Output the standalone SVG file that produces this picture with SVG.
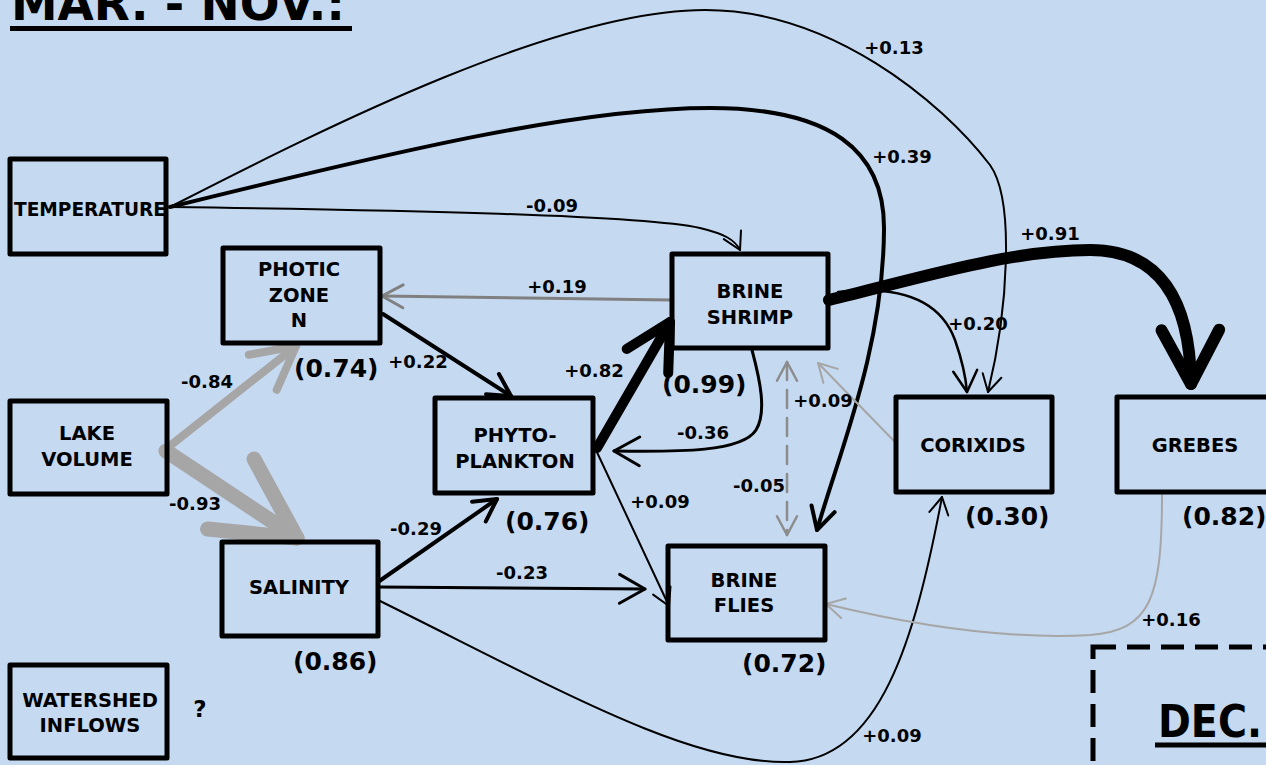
<svg xmlns="http://www.w3.org/2000/svg" width="1266" height="765" viewBox="0 0 1266 765">
<style>
.bg{fill:#C5D9F1}
.box{fill:none;stroke:#000;stroke-width:5;stroke-linejoin:round}
.nl{font-family:"DejaVu Sans","Liberation Sans",sans-serif;font-weight:bold;font-size:19.5px;fill:#000;text-anchor:middle}
.r2{font-family:"DejaVu Sans","Liberation Sans",sans-serif;font-weight:bold;font-size:25px;fill:#000}
.cf{font-family:"DejaVu Sans","Liberation Sans",sans-serif;font-weight:bold;font-size:18px;fill:#000;text-anchor:middle}
.ttl{font-family:"DejaVu Sans","Liberation Sans",sans-serif;font-weight:bold;font-size:48px;fill:#000}
.c{fill:none;stroke-linecap:round;stroke-linejoin:round}
.k{stroke:#000}
.g1{stroke:#808080}
.g2{stroke:#A6A6A6}
.g3{stroke:#8C8C8C}
.mk{fill:none;stroke-width:1;stroke-linecap:round;stroke-linejoin:round}
</style>
<defs>
<marker id="ab" viewBox="-12 -8 14 16" refX="0" refY="0" markerWidth="14" markerHeight="16" orient="auto" markerUnits="strokeWidth" overflow="visible"><path class="mk" d="M-8.5,-4.8 L0,0 L-8.5,4.8" stroke="#000"/></marker>
<marker id="abm" viewBox="-12 -8 14 16" refX="0" refY="0" markerWidth="14" markerHeight="16" orient="auto" markerUnits="strokeWidth" overflow="visible"><path class="mk" d="M-5.5,-3 L0,0 L-5.5,3" stroke="#000"/></marker>
<marker id="abk" viewBox="-12 -8 14 16" refX="0" refY="0" markerWidth="14" markerHeight="16" orient="auto" markerUnits="strokeWidth" overflow="visible"><path class="mk" d="M-4.5,-2.4 L0,0 L-4.5,2.4" stroke="#000"/></marker>
<marker id="ag1" viewBox="-12 -8 14 16" refX="0" refY="0" markerWidth="14" markerHeight="16" orient="auto" markerUnits="strokeWidth" overflow="visible"><path class="mk" d="M-7,-3.8 L0,0 L-7,3.8" stroke="#808080"/></marker>
<marker id="ag2" viewBox="-12 -8 14 16" refX="0" refY="0" markerWidth="14" markerHeight="16" orient="auto" markerUnits="strokeWidth" overflow="visible"><path class="mk" d="M-9,-5 L0,0 L-9,5" stroke="#A6A6A6"/></marker>
<marker id="ag3" viewBox="-12 -8 14 16" refX="0" refY="0" markerWidth="14" markerHeight="16" orient="auto-start-reverse" markerUnits="strokeWidth" overflow="visible"><path class="mk" d="M-7.5,-4 L0,0 L-7.5,4" stroke="#8C8C8C"/></marker>
<marker id="agk" viewBox="-12 -8 14 16" refX="0" refY="0" markerWidth="14" markerHeight="16" orient="auto" markerUnits="strokeWidth" overflow="visible"><path class="mk" d="M-5.3,-2.8 L0,0 L-5.3,2.8" stroke="#A6A6A6"/></marker>
</defs>
<rect class="bg" x="0" y="0" width="1266" height="765"/>

<g id="title-mar-nov">
<text class="ttl" x="11" y="20" textLength="334" lengthAdjust="spacingAndGlyphs">MAR. - NOV.:</text>
<line x1="10" y1="28.5" x2="352" y2="28.5" stroke="#000" stroke-width="5"/>
</g>

<g id="connectors">
<path class="c k" stroke-width="2" d="M170,207 C330,125 560,10 705,10 C830,10 940,100 990,165 C1015,200 1008,310 988,392" marker-end="url(#ab)"/>
<path class="c k" stroke-width="4" d="M170,207 C400,150 580,108 710,108 C830,108 885,150 884,230 C883,350 840,450 817,530" marker-end="url(#abm)"/>
<path class="c k" stroke-width="2" d="M170,207 C400,210 640,215 700,228 C725,234 735,240 740,250" marker-end="url(#ab)"/>
<path class="c g1" stroke-width="3" d="M671,300 L382,296" marker-end="url(#ag1)"/>
<path class="c k" stroke-width="4" d="M383,314 L511,396" marker-end="url(#abm)"/>
<path class="c g2" stroke-width="8" d="M166,449 L296,346" marker-end="url(#agk)"/>
<path class="c g2" stroke-width="15" d="M166,451 L297,538" marker-end="url(#agk)"/>
<path class="c k" stroke-width="4" d="M378,582 L497,499" marker-end="url(#abm)"/>
<path class="c k" stroke-width="3" d="M378,587 L645,589" marker-end="url(#ab)"/>
<path class="c k" stroke-width="2" d="M378,600 C560,690 690,765 790,762 C880,760 915,640 942,497" marker-end="url(#ab)"/>
<path class="c k" stroke-width="10" d="M597,448 L670,322" marker-end="url(#abk)"/>
<path class="c k" stroke-width="3" d="M752,350 C760,380 767,412 756,430 C742,452 680,452 614,451" marker-end="url(#ab)"/>
<path class="c k" stroke-width="12" d="M829,300 C920,278 1010,250 1090,250 C1160,250 1190,300 1191,384" marker-end="url(#abk)"/>
<path class="c k" stroke-width="2.5" d="M838,292 C900,285 940,300 955,340 C962,360 966,380 967,392" marker-end="url(#ab)"/>
<path class="c g2" stroke-width="2" d="M897,444 L818,363" marker-end="url(#ag2)"/>
<path class="c g3" stroke-width="2.5" stroke-dasharray="18 10" d="M787,362 L787,535" marker-start="url(#ag3)" marker-end="url(#ag3)"/>
<path class="c k" stroke-width="2" d="M595,448 L669,606" marker-end="url(#ab)"/>
<path class="c g2" stroke-width="2" d="M1162,495 C1162,600 1150,630 1090,635 C1000,640 900,622 826,604" marker-end="url(#ag2)"/>

<text class="cf" x="894" y="54">+0.13</text>
<text class="cf" x="902" y="163">+0.39</text>
<text class="cf" x="1050" y="240">+0.91</text>
<text class="cf" x="552" y="212">-0.09</text>
<text class="cf" x="557" y="293">+0.19</text>
<text class="cf" x="418" y="368">+0.22</text>
<text class="cf" x="207" y="388">-0.84</text>
<text class="cf" x="195" y="510">-0.93</text>
<text class="cf" x="416" y="535">-0.29</text>
<text class="cf" x="594" y="377">+0.82</text>
<text class="cf" x="703" y="439">-0.36</text>
<text class="cf" x="823" y="407">+0.09</text>
<text class="cf" x="759" y="492">-0.05</text>
<text class="cf" x="660" y="508">+0.09</text>
<text class="cf" x="522" y="579">-0.23</text>
<text class="cf" x="978" y="330">+0.20</text>
<text class="cf" x="892" y="742">+0.09</text>
<text class="cf" x="1171" y="626">+0.16</text>
<text class="cf" x="200" y="717" style="font-size:23px">?</text>
</g>

<g id="temperature">
<rect class="box" x="10" y="159" width="156" height="95"/>
<text class="nl" x="90" y="216" textLength="152" lengthAdjust="spacingAndGlyphs">TEMPERATURE</text>
</g>
<g id="photic-zone-n">
<rect class="box" x="223" y="248" width="157" height="95"/>
<text class="nl" x="299" y="276">PHOTIC</text>
<text class="nl" x="299" y="302">ZONE</text>
<text class="nl" x="299" y="327">N</text>
<text class="r2" x="294" y="377">(0.74)</text>
</g>
<g id="lake-volume">
<rect class="box" x="10" y="401" width="157" height="93"/>
<text class="nl" x="87" y="440">LAKE</text>
<text class="nl" x="87" y="466">VOLUME</text>
</g>
<g id="salinity">
<rect class="box" x="222" y="542" width="156" height="94"/>
<text class="nl" x="299" y="594">SALINITY</text>
<text class="r2" x="293" y="670">(0.86)</text>
</g>
<g id="watershed-inflows">
<rect class="box" x="10" y="665" width="157" height="93"/>
<text class="nl" x="90" y="707">WATERSHED</text>
<text class="nl" x="90" y="732">INFLOWS</text>
</g>
<g id="phytoplankton">
<rect class="box" x="435" y="398" width="158" height="95"/>
<text class="nl" x="515" y="442">PHYTO-</text>
<text class="nl" x="515" y="468">PLANKTON</text>
<text class="r2" x="505" y="530">(0.76)</text>
</g>
<g id="brine-shrimp">
<rect class="box" x="672" y="254" width="156" height="94"/>
<text class="nl" x="750" y="298">BRINE</text>
<text class="nl" x="750" y="324">SHRIMP</text>
<text class="r2" x="662" y="393">(0.99)</text>
</g>
<g id="brine-flies">
<rect class="box" x="668" y="546" width="157" height="94"/>
<text class="nl" x="744" y="587">BRINE</text>
<text class="nl" x="744" y="612">FLIES</text>
<text class="r2" x="742" y="672">(0.72)</text>
</g>
<g id="corixids">
<rect class="box" x="896" y="397" width="156" height="95"/>
<text class="nl" x="973" y="452">CORIXIDS</text>
<text class="r2" x="965" y="525">(0.30)</text>
</g>
<g id="grebes">
<rect class="box" x="1117" y="397" width="170" height="95"/>
<text class="nl" x="1195" y="452">GREBES</text>
<text class="r2" x="1182" y="525">(0.82)</text>
</g>
<g id="dec-panel">
<rect x="1093" y="647" width="220" height="160" fill="none" stroke="#000" stroke-width="5" stroke-dasharray="23 11"/>
<text class="ttl" x="1158" y="737" style="font-size:44px" textLength="104" lengthAdjust="spacingAndGlyphs">DEC.</text>
<line x1="1155" y1="745" x2="1266" y2="745" stroke="#000" stroke-width="5"/>
</g>
</svg>
